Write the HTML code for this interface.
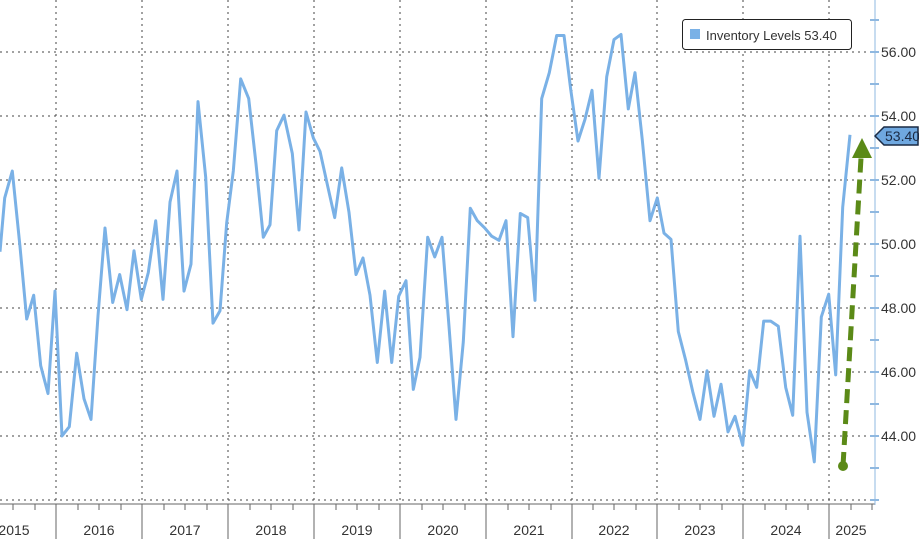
<!DOCTYPE html>
<html><head><meta charset="utf-8"><style>
html,body{margin:0;padding:0;background:#fff;}
svg{display:block;font-family:"Liberation Sans",sans-serif;}
</style></head><body>
<svg width="919" height="539" viewBox="0 0 919 539" xmlns="http://www.w3.org/2000/svg">
<g stroke="#444" stroke-width="1" stroke-dasharray="2,4" fill="none">
<line x1="0" y1="52" x2="875" y2="52"/>
<line x1="0" y1="116" x2="875" y2="116"/>
<line x1="0" y1="180" x2="875" y2="180"/>
<line x1="0" y1="244" x2="875" y2="244"/>
<line x1="0" y1="308" x2="875" y2="308"/>
<line x1="0" y1="372" x2="875" y2="372"/>
<line x1="0" y1="436" x2="875" y2="436"/>
<line x1="0" y1="500" x2="875" y2="500"/>
<line x1="56" y1="0" x2="56" y2="500"/>
<line x1="142" y1="0" x2="142" y2="500"/>
<line x1="228" y1="0" x2="228" y2="500"/>
<line x1="314" y1="0" x2="314" y2="500"/>
<line x1="400" y1="0" x2="400" y2="500"/>
<line x1="486" y1="0" x2="486" y2="500"/>
<line x1="572" y1="0" x2="572" y2="500"/>
<line x1="657" y1="0" x2="657" y2="500"/>
<line x1="743" y1="0" x2="743" y2="500"/>
<line x1="829" y1="0" x2="829" y2="500"/>
</g>
<line x1="0" y1="504" x2="875" y2="504" stroke="#666" stroke-width="1"/>
<g stroke="#666" stroke-width="1">
<line x1="56" y1="504" x2="56" y2="539"/><line x1="142" y1="504" x2="142" y2="539"/>
<line x1="228" y1="504" x2="228" y2="539"/><line x1="314" y1="504" x2="314" y2="539"/>
<line x1="400" y1="504" x2="400" y2="539"/><line x1="486" y1="504" x2="486" y2="539"/>
<line x1="572" y1="504" x2="572" y2="539"/><line x1="657" y1="504" x2="657" y2="539"/>
<line x1="743" y1="504" x2="743" y2="539"/><line x1="829" y1="504" x2="829" y2="539"/>
</g>
<line x1="875" y1="0" x2="875" y2="505" stroke="#8fb8e0" stroke-width="1"/>
<g stroke="#8fb8e0" stroke-width="2">
<line x1="870" y1="20" x2="879" y2="20"/><line x1="870" y1="52" x2="879" y2="52"/><line x1="870" y1="84" x2="879" y2="84"/>
<line x1="870" y1="116" x2="879" y2="116"/><line x1="870" y1="148" x2="879" y2="148"/><line x1="870" y1="180" x2="879" y2="180"/>
<line x1="870" y1="212" x2="879" y2="212"/><line x1="870" y1="244" x2="879" y2="244"/><line x1="870" y1="276" x2="879" y2="276"/>
<line x1="870" y1="308" x2="879" y2="308"/><line x1="870" y1="340" x2="879" y2="340"/><line x1="870" y1="372" x2="879" y2="372"/>
<line x1="870" y1="404" x2="879" y2="404"/><line x1="870" y1="436" x2="879" y2="436"/><line x1="870" y1="468" x2="879" y2="468"/>
<line x1="870" y1="500" x2="879" y2="500"/>
</g>
<g font-size="14" fill="#333">
<text x="881" y="57">56.00</text><text x="881" y="121">54.00</text><text x="881" y="185">52.00</text>
<text x="881" y="249">50.00</text><text x="881" y="313">48.00</text><text x="881" y="377">46.00</text><text x="881" y="441">44.00</text>
</g>
<g font-size="14" fill="#333" text-anchor="middle">
<text x="14" y="535">2015</text><text x="99" y="535">2016</text><text x="185" y="535">2017</text>
<text x="271" y="535">2018</text><text x="357" y="535">2019</text><text x="443" y="535">2020</text>
<text x="529" y="535">2021</text><text x="614" y="535">2022</text><text x="700" y="535">2023</text>
<text x="786" y="535">2024</text><text x="851" y="535">2025</text>
</g>
<g stroke="#666" stroke-width="1">
<line x1="13" y1="504" x2="13" y2="510"/><line x1="35" y1="504" x2="35" y2="510"/>
<line x1="78" y1="504" x2="78" y2="510"/><line x1="99" y1="504" x2="99" y2="510"/><line x1="121" y1="504" x2="121" y2="510"/>
<line x1="164" y1="504" x2="164" y2="510"/><line x1="185" y1="504" x2="185" y2="510"/><line x1="207" y1="504" x2="207" y2="510"/>
<line x1="250" y1="504" x2="250" y2="510"/><line x1="271" y1="504" x2="271" y2="510"/><line x1="293" y1="504" x2="293" y2="510"/>
<line x1="336" y1="504" x2="336" y2="510"/><line x1="357" y1="504" x2="357" y2="510"/><line x1="379" y1="504" x2="379" y2="510"/>
<line x1="422" y1="504" x2="422" y2="510"/><line x1="443" y1="504" x2="443" y2="510"/><line x1="465" y1="504" x2="465" y2="510"/>
<line x1="508" y1="504" x2="508" y2="510"/><line x1="529" y1="504" x2="529" y2="510"/><line x1="551" y1="504" x2="551" y2="510"/>
<line x1="593" y1="504" x2="593" y2="510"/><line x1="614" y1="504" x2="614" y2="510"/><line x1="636" y1="504" x2="636" y2="510"/>
<line x1="679" y1="504" x2="679" y2="510"/><line x1="700" y1="504" x2="700" y2="510"/><line x1="722" y1="504" x2="722" y2="510"/>
<line x1="765" y1="504" x2="765" y2="510"/><line x1="786" y1="504" x2="786" y2="510"/><line x1="808" y1="504" x2="808" y2="510"/>
<line x1="851" y1="504" x2="851" y2="510"/><line x1="872" y1="504" x2="872" y2="510"/>
</g>
<g transform="translate(0,52) scale(1,1.035) translate(0,-52)">
<polyline fill="none" stroke="#7ab1e6" stroke-width="3" stroke-linejoin="round" vector-effect="non-scaling-stroke" points="
0,245 4.7,193 12.3,167 20,240 26.7,310 33.7,287 40.7,355 48,382 55,283 62,423 69.3,414 76.7,343 84,387 91,407 98,307 105,222 112.7,294 119.7,267 127,301 134,244 141.3,291 148.3,265 155.7,215 163,291 170,197 177,167 184,283 191,257 198,100 205.7,173 213,314 220,302 226.7,217 233.3,167 240.7,78 248.7,97 256,160 263.3,231 270,219 276.7,128 284,113 292.3,150 299,224 306,110 313.3,135 320,148 327.3,180 334.7,212 341.7,164 349,207 356,267 363,251 370,287 377.3,352 384.7,283 391.7,352 398.7,288 406,273 413.3,378 420,347 427.7,231 434.7,250 442,231 449,317 456,407 463.3,332 470.3,203 477.3,215 484.7,222 491.7,230 499,234 506,215 513,327 520.3,208 527.7,212 535,292 541.7,97 549.3,72 556.7,36 564,36 570.7,88 578,138 585,117 592,89 599,174 606.7,76 614,40 621,35 628.3,107 635,72 642.3,137 650,215 657.3,193 664,227 671,233 678.3,322 685.7,350 692.7,380 700,407 707,360 714,404 721,373 728,419 735,404 742.7,432 749.7,360 756.7,376 763.7,312 770.7,312 778.3,317 785.7,376 792.7,403 800,230 807,400 814.3,448 821.3,308 828.7,286 835.7,364 842.7,202 850,132"/>
</g>
<line x1="843" y1="466" x2="861" y2="158" stroke="#5b8a17" stroke-width="5" stroke-dasharray="14,7"/>
<circle cx="843" cy="466" r="5" fill="#5b8a17"/>
<polygon points="862,138 852,158 872,158" fill="#5b8a17"/>
<polygon points="875,136 884,127 918,127 918,145 884,145" fill="#6fa8e0" stroke="#1a2a44" stroke-width="1.5"/>
<text x="885" y="141" font-size="14" fill="#1a2a44">53.40</text>
<rect x="682.5" y="19.5" width="169" height="30" rx="3" fill="#fff" stroke="#222" stroke-width="1"/>
<rect x="690" y="29" width="10" height="10" fill="#7ab1e6"/>
<text x="706" y="40" font-size="13" fill="#333">Inventory Levels 53.40</text>
</svg>
</body></html>
